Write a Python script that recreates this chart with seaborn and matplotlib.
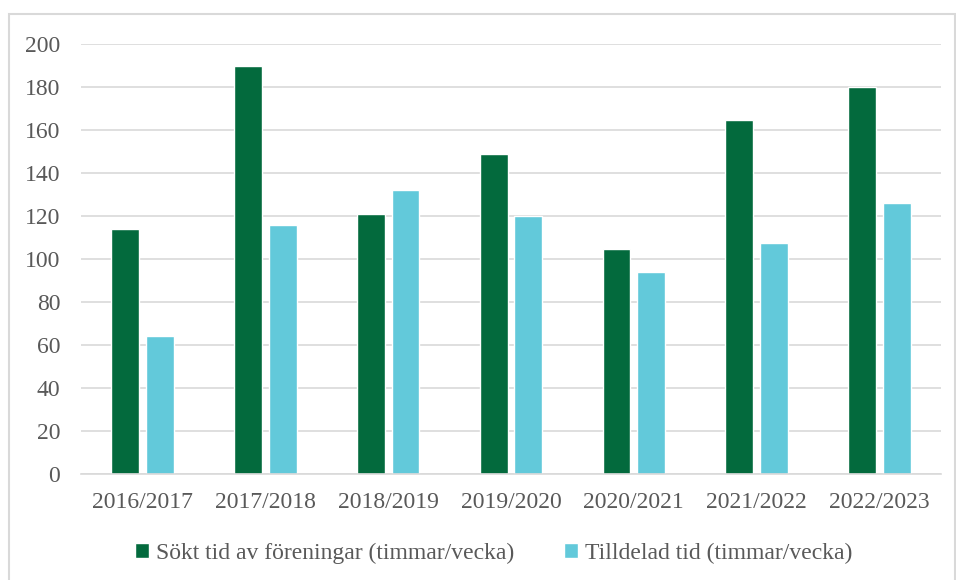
"""Sökt vs tilldelad tid per säsong."""
import pandas as pd
import matplotlib.pyplot as plt
import seaborn as sns
from matplotlib.patches import Rectangle

seasons = ["2016/2017", "2017/2018", "2018/2019", "2019/2020",
           "2020/2021", "2021/2022", "2022/2023"]
sokt = [114, 190, 121, 149, 104.5, 164.5, 180]
tilldelad = [64, 116, 132, 120, 94, 107.5, 126]
series_names = ["Sökt tid av föreningar (timmar/vecka)", "Tilldelad tid (timmar/vecka)"]
colors = ["#036A3D", "#62C9DA"]

df = pd.DataFrame({
    "season": seasons * 2,
    "value": sokt + tilldelad,
    "series": [series_names[0]] * len(seasons) + [series_names[1]] * len(seasons),
})

sns.set_style("white")
plt.rcParams["font.family"] = ["Liberation Serif", "DejaVu Serif"]
text_color = "#595959"
grid_color = "#D9D9D9"

fig = plt.figure(figsize=(9.56, 5.80), dpi=100)
ax = fig.add_axes([81 / 956, 1 - 474 / 580, 860 / 956, 430 / 580])

# outer chart border
fig.patches.append(Rectangle((9 / 956, -0.01), 946 / 956, 1 - 14 / 580 + 0.01,
                             transform=fig.transFigure, fill=False,
                             edgecolor=grid_color, linewidth=1.5))

sns.barplot(data=df, x="season", y="value", hue="series", palette=colors,
            width=0.566, gap=0.2, ax=ax, saturation=1, legend=True)

ax.set_ylim(0, 200)
ax.set_yticks(range(0, 201, 20))
ax.yaxis.grid(True, color=grid_color, linewidth=1.2)
ax.set_axisbelow(True)
for side in ["top", "right", "left"]:
    ax.spines[side].set_visible(False)
ax.spines["bottom"].set_color(grid_color)
ax.spines["bottom"].set_linewidth(1.2)
ax.set_xlabel("")
ax.set_ylabel("")
ax.tick_params(axis="y", length=0, pad=15, labelsize=17, labelcolor=text_color)
ax.tick_params(axis="x", length=0, pad=13, labelsize=17, labelcolor=text_color)

handles, labels = ax.get_legend_handles_labels()
ax.get_legend().remove()
fig.legend(handles, labels, loc="center", bbox_to_anchor=(493.5 / 956, 1 - 553 / 580),
           ncol=2, frameon=False, fontsize=17, labelcolor=text_color,
           handlelength=0.6, handleheight=0.6, handletextpad=0.3, columnspacing=2.1)

fig.savefig("out.png", dpi=100)
plt.close(fig)
